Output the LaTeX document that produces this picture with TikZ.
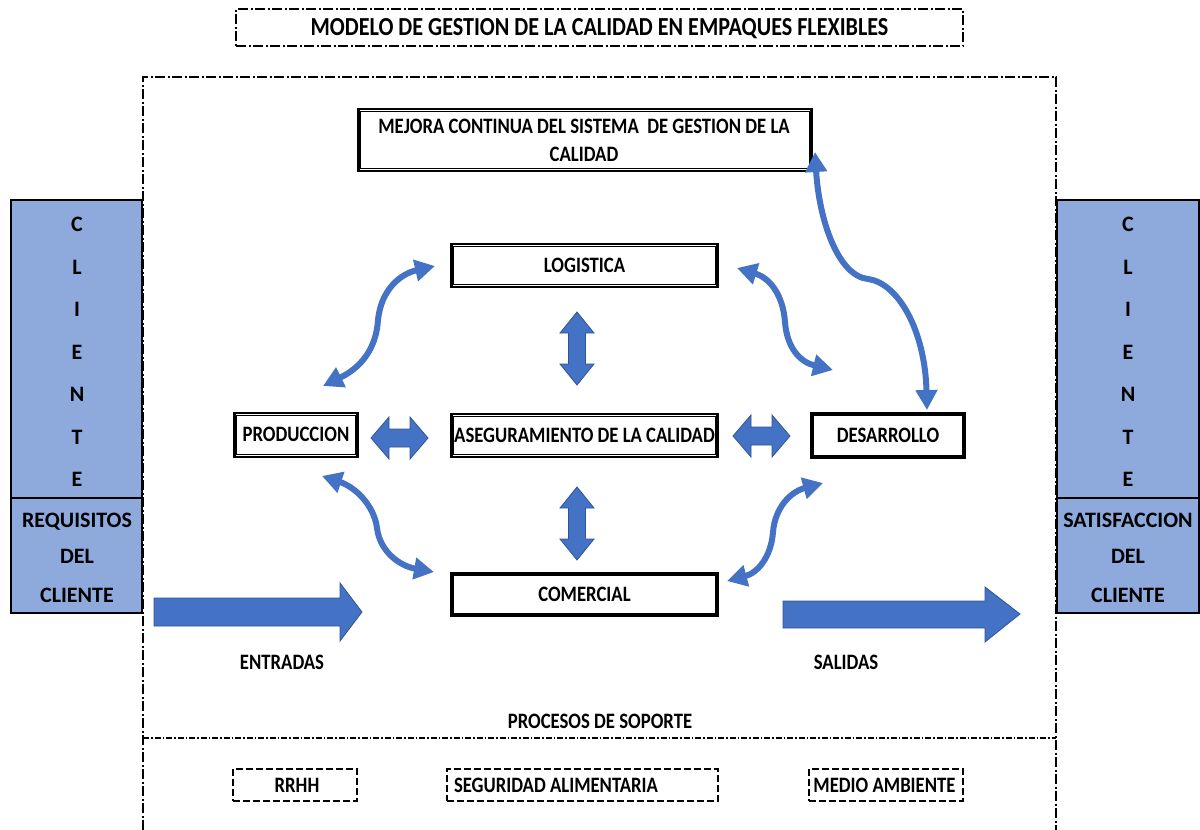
\documentclass[tikz,border=0pt]{standalone}
\usepackage{fontspec}
\setmainfont{Carlito}[FakeStretch=0.85]
\newfontfamily\widefont{Carlito}
\usetikzlibrary{arrows.meta}
\definecolor{arrowblue}{HTML}{4472C4}
\definecolor{arrowedge}{HTML}{2F5597}
\definecolor{clientfill}{HTML}{8EA9DB}

\tikzset{
  lbl/.style={font=\bfseries\fontsize{22}{26}\selectfont, inner sep=0pt, text height=13.9pt, text depth=0pt},
  widelbl/.style={font=\widefont\bfseries\fontsize{22}{26}\selectfont, inner sep=0pt, text height=13.9pt, text depth=0pt},
  titlelbl/.style={font=\bfseries\fontsize{26}{30}\selectfont, inner sep=0pt, text height=16.4pt, text depth=0pt},
  procbox/.style={draw, line width=2.6pt, inner sep=0pt},
  innerrule/.style={line width=1.1pt},
  supportbox/.style={draw, line width=2.4pt, dash pattern=on 7pt off 3pt, inner sep=0pt},
  dashdot/.style={line width=1.8pt, dash pattern=on 10pt off 2.5pt on 2pt off 2.5pt},
  finedashdot/.style={line width=1.4pt, dash pattern=on 6pt off 2pt on 1.5pt off 2pt},
  clientbox/.style={draw, line width=1.8pt, fill=clientfill},
  curvearrow/.style={draw=arrowblue, line width=6pt,
    {Triangle[width=21pt,length=20pt]}-{Triangle[width=21pt,length=20pt]}},
  fatarrow/.style={fill=arrowblue, draw=arrowedge, line width=0.8pt, line join=miter},
  pics/vdouble/.style={code={
    \draw[fatarrow] (0,-36.5) -- (17,-15.5) -- (8.5,-15.5) -- (8.5,15.5) -- (17,15.5)
      -- (0,36.5) -- (-17,15.5) -- (-8.5,15.5) -- (-8.5,-15.5) -- (-17,-15.5) -- cycle;}},
  pics/hdouble/.style={code={
    \draw[fatarrow] (-28.5,0) -- (-10.5,-21) -- (-10.5,-9) -- (10.5,-9) -- (10.5,-21)
      -- (28.5,0) -- (10.5,21) -- (10.5,9) -- (-10.5,9) -- (-10.5,21) -- cycle;}},
}

\begin{document}
\begin{tikzpicture}[x=1pt,y=-1pt]
\useasboundingbox (0,0) rectangle (1200,830);

% title
\node[draw, dashdot, minimum width=727pt, minimum height=37pt, titlelbl] (title) at (599.5,27.5)
  {MODELO DE GESTION DE LA CALIDAD EN EMPAQUES FLEXIBLES};

% process frame and support divider
\draw[dashdot] (143,830) -- (143,77) -- (1056,77) -- (1056,830);
\draw[finedashdot] (143,738) -- (1056,738);

% customer columns
\draw[clientbox] (11,200) rectangle (142,613);
\draw[line width=1.8pt] (11,498) -- (142,498);
\draw[clientbox] (1057,200) rectangle (1199,613);
\draw[line width=1.8pt] (1057,498) -- (1199,498);
\foreach \ch [count=\i from 0] in {C,L,I,E,N,T,E} {
  \node[widelbl] (cl\i) at (77,225+42.5*\i) {\ch};
  \node[widelbl] (cr\i) at (1128,225+42.5*\i) {\ch};
}
\node[widelbl] (req1) at (77,521) {REQUISITOS};
\node[widelbl] (req2) at (77,557) {DEL};
\node[widelbl] (req3) at (77,596) {CLIENTE};
\node[widelbl] (sat1) at (1128,521) {SATISFACCION};
\node[widelbl] (sat2) at (1128,557) {DEL};
\node[widelbl] (sat3) at (1128,596) {CLIENTE};

% improvement box
\node[procbox, minimum width=453pt, minimum height=62pt] (mejora) at (585,140) {};
\node[lbl] (mej1) at (584,127) {MEJORA CONTINUA DEL SISTEMA\ \ DE GESTION DE LA};
\node[lbl] (mej2) at (584,155) {CALIDAD};

% core processes
\node[procbox, lbl, minimum width=266pt, minimum height=43pt] (log) at (584.5,265.5) {LOGISTICA};
\node[procbox, lbl, minimum width=266pt, minimum height=43pt] (aseg) at (584.5,435.5) {ASEGURAMIENTO DE LA CALIDAD};
\node[procbox, lbl, minimum width=266pt, minimum height=42pt] (com) at (584.5,594.5) {COMERCIAL};
\node[procbox, lbl, minimum width=123pt, minimum height=44pt] (prod) at (296,435) {PRODUCCION};
\node[procbox, lbl, minimum width=153pt, minimum height=44pt] (des) at (888,435.5) {DESARROLLO};
% thin inner rule of the framed boxes
\foreach \bx in {mejora,log,aseg,com,prod,des}
  \draw[innerrule] ([shift={(3.6,3.6)}]\bx.north west) rectangle ([shift={(-3.6,-3.6)}]\bx.south east);

% block arrows between the core processes
\pic at (577,348.5) {vdouble};
\pic at (577,523.5) {vdouble};
\pic at (399.5,438) {hdouble};
\pic at (761.5,436) {hdouble};

% curved two-way arrows
\coordinate (lp1) at (435,266);
\coordinate (lp2) at (323,386);
\draw[curvearrow] (lp2) .. controls (360,368) and (376,350) .. (378,320)
  .. controls (381,290) and (400,274) .. (lp1);
\coordinate (ld1) at (737,268);
\coordinate (ld2) at (833,370);
\draw[curvearrow] (ld1) .. controls (770,278) and (783,295) .. (785,322)
  .. controls (787,348) and (800,362) .. (ld2);
\coordinate (pc1) at (322,476);
\coordinate (pc2) at (434,572);
\draw[curvearrow] (pc1) .. controls (355,487) and (374,505) .. (377,528)
  .. controls (380,552) and (400,566) .. (pc2);
\coordinate (dc1) at (823,483);
\coordinate (dc2) at (727,581);
\draw[curvearrow] (dc1) .. controls (790,492) and (775,508) .. (773,532)
  .. controls (771,558) and (757,573) .. (dc2);
\coordinate (md1) at (815,152);
\coordinate (md2) at (927,410);
\draw[curvearrow] (md1) .. controls (819,220) and (838,276) .. (868,279)
  .. controls (898,283) and (925,330) .. (md2);

% inputs and outputs
\draw[fatarrow] (154,598) -- (340,598) -- (340,583) -- (362,612) -- (340,641)
  -- (340,626) -- (154,626) -- cycle;
\draw[fatarrow] (783,601) -- (985,601) -- (985,587) -- (1020,614) -- (985,642)
  -- (985,628) -- (783,628) -- cycle;
\node[lbl] (in) at (282,663) {ENTRADAS};
\node[lbl] (out) at (846,663) {SALIDAS};

% support processes
\node[lbl] (sop) at (600,722) {PROCESOS DE SOPORTE};
\node[supportbox, minimum width=124pt, minimum height=32pt] (rrhh) at (295,785) {};
\node[supportbox, minimum width=271pt, minimum height=32pt] (seg) at (582.5,785) {};
\node[supportbox, minimum width=154pt, minimum height=32pt] (amb) at (886,785) {};
\node[lbl] (rrhhtxt) at (297,786) {RRHH};
\node[lbl] (segtxt) at (556,786) {SEGURIDAD ALIMENTARIA};
\node[lbl] (ambtxt) at (884.5,786) {MEDIO AMBIENTE};
\end{tikzpicture}
\end{document}
